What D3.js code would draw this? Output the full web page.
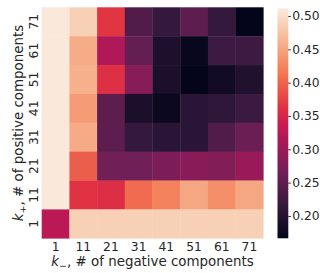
<!DOCTYPE html>
<html><head><meta charset="utf-8">
<script src="https://cdn.jsdelivr.net/npm/d3@7"></script>
<style>
html,body{margin:0;padding:0;background:#fff;}
svg{display:block;font-family:"DejaVu Sans",sans-serif;}
</style></head>
<body><svg id="c" width="320" height="273"></svg>
<script>
const colLabels = ["1","11","21","31","41","51","61","71"];
const rowLabels = ["71","61","51","41","31","21","11","1"];
const values = [
  [0.510,0.487,0.365,0.240,0.215,0.250,0.215,0.167],
  [0.510,0.456,0.318,0.255,0.193,0.172,0.222,0.222],
  [0.510,0.459,0.360,0.283,0.190,0.167,0.182,0.195],
  [0.510,0.443,0.250,0.190,0.175,0.205,0.210,0.220],
  [0.510,0.455,0.250,0.215,0.205,0.205,0.240,0.260],
  [0.510,0.395,0.265,0.265,0.275,0.285,0.280,0.298],
  [0.510,0.362,0.358,0.405,0.422,0.452,0.432,0.452],
  [0.325,0.487,0.487,0.487,0.487,0.487,0.487,0.487]
];
const cbTicks = [0.20,0.25,0.30,0.35,0.40,0.45,0.50];
const vmin = 0.1665, vmax = 0.5115;

const rocketPos = [0,0.143,0.286,0.429,0.5,0.571,0.714,0.857,1];
const rocketCol = ["#03051a","#35193e","#701f57","#ad1759","#cb1b4f","#e13342","#f37651","#f6b48f","#faebdd"];
const color = d3.scaleLinear()
  .domain(rocketPos.map(p => vmin + p*(vmax-vmin)))
  .range(rocketCol).interpolate(d3.interpolateRgb).clamp(true);

const svg = d3.select("#c");
const x = d3.scaleBand().domain(colLabels).range([41.7,263.3]).padding(0);
const y = d3.scaleBand().domain(rowLabels).range([7.3,238.3]).padding(0);

const cells = [];
rowLabels.forEach((r,i)=>colLabels.forEach((c,j)=>cells.push({r,c,v:values[i][j]})));
svg.append("g").selectAll("rect").data(cells).join("rect")
  .attr("x",d=>x(d.c)).attr("y",d=>y(d.r))
  .attr("width",x.bandwidth()+0.3).attr("height",y.bandwidth()+0.3)
  .attr("fill",d=>color(d.v));

const fs = 12.3;
// x tick labels
svg.append("g").selectAll("text").data(colLabels).join("text")
  .attr("x",d=>x(d)+x.bandwidth()/2).attr("y",250.5)
  .attr("text-anchor","middle").attr("font-size",fs).attr("fill","#262626")
  .text(d=>d);
// y tick labels rotated
svg.append("g").selectAll("text").data(rowLabels).join("text")
  .attr("transform",d=>`translate(37.5,${y(d)+y.bandwidth()/2}) rotate(-90)`)
  .attr("text-anchor","middle").attr("font-size",fs).attr("fill","#262626")
  .text(d=>d);

// axis labels
const xl = svg.append("text").attr("x",152.5).attr("y",265.8)
  .attr("text-anchor","middle").attr("font-size",13.4).attr("fill","#262626");
xl.append("tspan").attr("font-style","italic").text("k");
xl.append("tspan").attr("font-size",9.5).attr("dy",3).text("\u2212");
xl.append("tspan").attr("dy",-3).text(", # of negative components");

const yl = svg.append("text").attr("transform","translate(22.5,123) rotate(-90)")
  .attr("text-anchor","middle").attr("font-size",13.4).attr("fill","#262626");
yl.append("tspan").attr("font-style","italic").text("k");
yl.append("tspan").attr("font-size",9.5).attr("dy",3).text("+");
yl.append("tspan").attr("dy",-3).text(", # of positive components");

// colorbar
const cb = d3.scaleLinear().domain([vmin,vmax]).range([238.3,8.3]);
const defs = svg.append("defs");
const grad = defs.append("linearGradient").attr("id","g").attr("x1",0).attr("y1",1).attr("x2",0).attr("y2",0);
d3.range(0,1.0001,0.02).forEach(t=>grad.append("stop").attr("offset",t).attr("stop-color",color(vmin+t*(vmax-vmin))));
svg.append("rect").attr("x",277.5).attr("y",8.3).attr("width",10.8).attr("height",230).attr("fill","url(#g)");
const ax = svg.append("g").attr("transform","translate(288.3,0)")
  .call(d3.axisRight(cb).tickValues(cbTicks).tickFormat(d3.format(".2f")).tickSize(2.5).tickPadding(1.5));
ax.select(".domain").remove();
ax.selectAll("text").attr("font-size",fs).attr("font-family","DejaVu Sans").attr("fill","#262626");
ax.selectAll("line").attr("stroke","#262626");
</script></body></html>
